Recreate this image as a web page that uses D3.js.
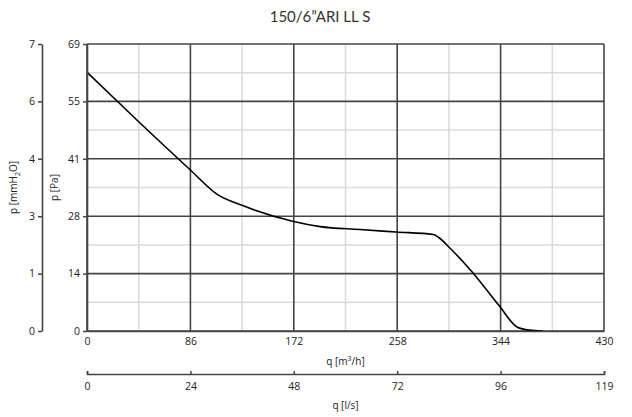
<!DOCTYPE html>
<html><head><meta charset="utf-8">
<script src="https://cdn.jsdelivr.net/npm/d3@7/dist/d3.min.js"></script>
<style>
body{margin:0;background:#fff;}
text{font-family:"Open Sans","Noto Sans",sans-serif;fill:#222;}
</style></head>
<body><svg id="c" width="632" height="417"></svg>
<script>
const title = "150/6\u201dARI LL S";
const flowM3h = [0, 43, 86, 108, 130, 171, 194, 227, 257, 288, 292, 302, 320, 343, 358, 368, 379];
const pressurePa = [62.2, 50.3, 38.7, 32.9, 30.1, 26.4, 25.1, 24.4, 23.8, 23.2, 22.6, 19.9, 14.3, 6.0, 0.9, 0.2, 0];
const xTicksM3h = [0, 86, 172, 258, 344, 430];
const xTickLabelsLs = ["0", "24", "48", "72", "96", "119"];
const yTicksPa = [0, 13.8, 27.6, 41.4, 55.2, 69];
const yTickLabelsPa = ["0", "14", "28", "41", "55", "69"];
const yTickLabelsMm = ["0", "1", "3", "4", "6", "7"];
const xMinor = [43, 129, 215, 301, 387];
const yMinor = [6.9, 20.7, 34.5, 48.3, 62.1];

const svg = d3.select("#c");
const L = 87, R = 604, T = 44, B = 331;
const x = d3.scaleLinear().domain([0, 430]).range([L, R]);
const y = d3.scaleLinear().domain([0, 69]).range([B, T]);
const dark = "#444", light = "#dadada";

svg.append("text").attr("x", 320).attr("y", 22).attr("text-anchor", "middle")
  .style("font-family", "Lato, 'Open Sans', sans-serif").style("font-size", "15px").style("fill", "#333").text(title);

const g = svg.append("g");
g.selectAll(".vx").data(xMinor).join("line").attr("x1", d => x(d)).attr("x2", d => x(d)).attr("y1", T).attr("y2", B).attr("stroke", light).attr("stroke-width", 1.5);
g.selectAll(".hy").data(yMinor).join("line").attr("y1", d => y(d)).attr("y2", d => y(d)).attr("x1", L).attr("x2", R).attr("stroke", light).attr("stroke-width", 1.5);
g.selectAll(".VX").data(xTicksM3h).join("line").attr("x1", d => x(d)).attr("x2", d => x(d)).attr("y1", T).attr("y2", B).attr("stroke", dark).attr("stroke-width", 1.6);
g.selectAll(".HY").data(yTicksPa).join("line").attr("y1", d => y(d)).attr("y2", d => y(d)).attr("x1", L).attr("x2", R).attr("stroke", dark).attr("stroke-width", 1.6);

const pts = flowM3h.map((q, i) => [q, pressurePa[i]]);
svg.append("path").datum(pts).attr("fill", "none").attr("stroke", "#000").attr("stroke-width", 1.6)
  .attr("d", d3.line().x(d => x(d[0])).y(d => y(d[1])).curve(d3.curveMonotoneX));

function styleAxis(sel){
  sel.select(".domain").attr("stroke", dark).attr("stroke-width", 1.6);
  sel.selectAll(".tick line").attr("stroke", dark).attr("stroke-width", 1.5);
  sel.selectAll(".tick text").style("font-size", "10.5px").style("fill", "#222").style("font-family", "'Open Sans',sans-serif");
}
const ay1 = svg.append("g").attr("transform", `translate(${L},0)`)
  .call(d3.axisLeft(y).tickValues(yTicksPa).tickFormat((d, i) => yTickLabelsPa[i]).tickSize(4).tickSizeOuter(0).tickPadding(3));
styleAxis(ay1);
const ay2 = svg.append("g").attr("transform", `translate(42,0)`)
  .call(d3.axisLeft(y).tickValues(yTicksPa).tickFormat((d, i) => yTickLabelsMm[i]).tickSize(4).tickSizeOuter(0).tickPadding(3));
styleAxis(ay2);
const ax1 = svg.append("g").attr("transform", `translate(0,${B})`)
  .call(d3.axisBottom(x).tickValues(xTicksM3h).tickSize(0).tickSizeOuter(0).tickPadding(7));
styleAxis(ax1);
const ax2 = svg.append("g").attr("transform", `translate(0,374)`)
  .call(d3.axisBottom(x).tickValues(xTicksM3h).tickFormat((d, i) => xTickLabelsLs[i]).tickSize(-3).tickSizeOuter(-3).tickPadding(9));
styleAxis(ax2);

const fs = "10px";
const t1 = svg.append("text").attr("x", (L + R) / 2).attr("y", 365).attr("text-anchor", "middle").style("font-size", fs);
t1.append("tspan").text("q [m");
t1.append("tspan").attr("dy", -4).style("font-size", "7px").text("3");
t1.append("tspan").attr("dy", 4).text("/h]");
svg.append("text").attr("x", (L + R) / 2).attr("y", 409).attr("text-anchor", "middle").style("font-size", fs).text("q [l/s]");
svg.append("text").attr("transform", `translate(58,${(T + B) / 2}) rotate(-90)`).attr("text-anchor", "middle").style("font-size", fs).text("p [Pa]");
const t2 = svg.append("text").attr("transform", `translate(17,${(T + B) / 2}) rotate(-90)`).attr("text-anchor", "middle").style("font-size", fs);
t2.append("tspan").text("p [mmH");
t2.append("tspan").attr("dy", 3).style("font-size", "7px").text("2");
t2.append("tspan").attr("dy", -3).text("O]");
</script></body></html>
